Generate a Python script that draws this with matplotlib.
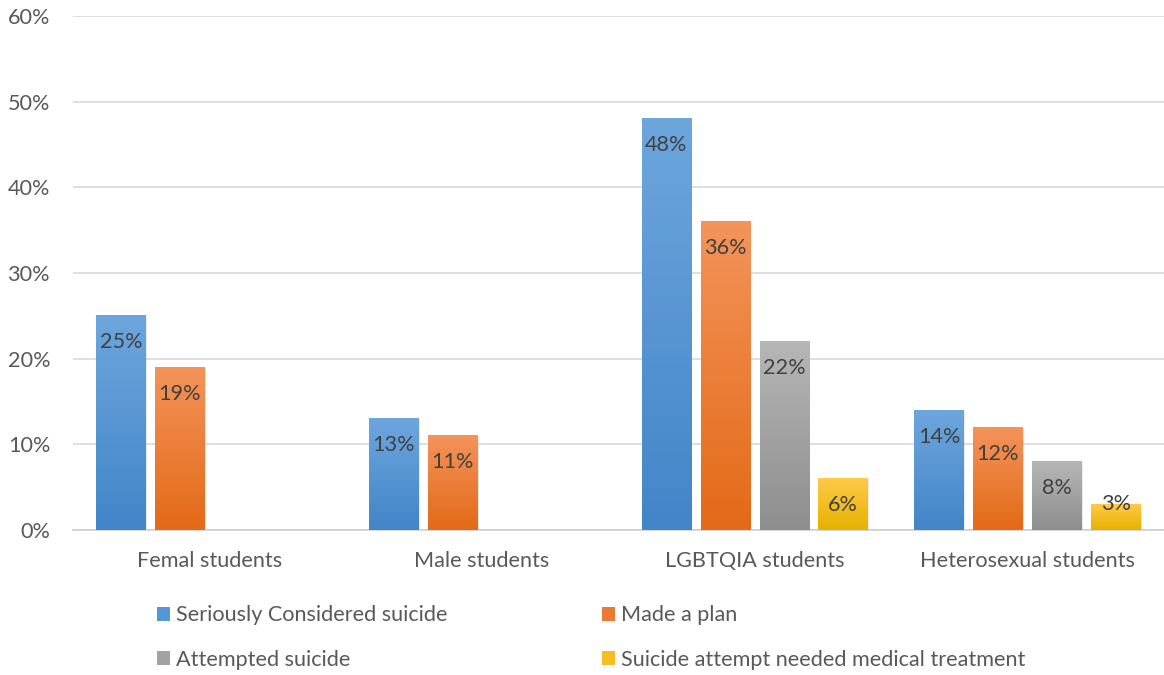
import numpy as np
import matplotlib.pyplot as plt
from matplotlib.patches import Rectangle
from matplotlib.colors import LinearSegmentedColormap

plt.rcParams['font.family'] = ['Lato', 'DejaVu Sans']

categories = ["Femal students", "Male students", "LGBTQIA students", "Heterosexual students"]
series = ["Seriously Considered suicide", "Made a plan",
          "Attempted suicide", "Suicide attempt needed medical treatment"]
considered = [25, 13, 48, 14]
made_plan = [19, 11, 36, 12]
attempted = [np.nan, np.nan, 22, 8]
medical = [np.nan, np.nan, 6, 3]
values = [considered, made_plan, attempted, medical]

# (top colour, bottom colour) for the vertical gradient of each series
shades = [("#6DA6DD", "#4285C8"), ("#F4935A", "#E36A17"),
          ("#B6B6B6", "#8E8E8E"), ("#FFCA48", "#E6B200")]
legend_cols = ["#5596D6", "#EC7A36", "#A2A2A2", "#F7BE22"]

fig = plt.figure(figsize=(11.64, 6.75), dpi=100)
ax = fig.add_axes([0.0627, 0.2148, 0.937, 0.7615])

x = np.arange(len(categories))
step = 0.216
width = 0.18
fs = 15.6
text_col = "#404040"

for i, (vals, (top, bot)) in enumerate(zip(values, shades)):
    cmap = LinearSegmentedColormap.from_list(f"g{i}", [bot, top])
    offs = (i - 1.5) * step
    for xi, v in zip(x, vals):
        if np.isnan(v):
            continue
        x0 = xi + offs - width / 2
        # soft shadow behind the bar
        ax.add_patch(Rectangle((x0 + 0.006, 0), width, v - 0.1, color="#000000",
                               alpha=0.08, lw=0, zorder=2))
        grad = np.linspace(0, 1, 100).reshape(-1, 1)
        ax.imshow(grad, cmap=cmap, origin="lower", aspect="auto",
                  extent=(x0, x0 + width, 0, v), zorder=3)
        # label sits inside the bar end; too-short bars get it on their top edge
        ly = v - 3.1 if v > 5 else v
        ax.text(xi + offs, ly, f"{v:g}%", ha="center", va="center",
                fontsize=fs, color=text_col, zorder=4)

ax.set_xlim(-0.5, len(categories) - 0.5)
ax.set_ylim(0, 60)
ax.set_yticks(range(0, 61, 10))
ax.set_yticklabels([f"{t}%" for t in range(0, 61, 10)])
ax.set_xticks(x)
ax.set_xticklabels(categories)
ax.tick_params(axis="both", length=0, labelsize=fs, labelcolor="#595959")
ax.tick_params(axis="x", pad=15)
ax.tick_params(axis="y", pad=16.5)
ax.grid(axis="y", color="#D9D9D9", linewidth=1.2, zorder=0)
ax.set_axisbelow(True)
for s in ["top", "right", "left"]:
    ax.spines[s].set_visible(False)
ax.spines["bottom"].set_color("#D0D0D0")
ax.spines["bottom"].set_linewidth(1.2)

handles = [Rectangle((0, 0), 1, 1, facecolor=c, edgecolor="none") for c in legend_cols]
# legend fills column by column, so reorder to read across rows
order = [0, 2, 1, 3]
fig.legend([handles[k] for k in order], [series[k] for k in order], ncol=2,
           loc="upper left", bbox_to_anchor=(0.1349, 0.103), frameon=False,
           fontsize=fs, labelcolor="#595959", handlelength=0.62, handleheight=0.62,
           handletextpad=0.25, columnspacing=7.13, labelspacing=1.13,
           borderaxespad=0, borderpad=0)

fig.savefig("out.png", dpi=100)
